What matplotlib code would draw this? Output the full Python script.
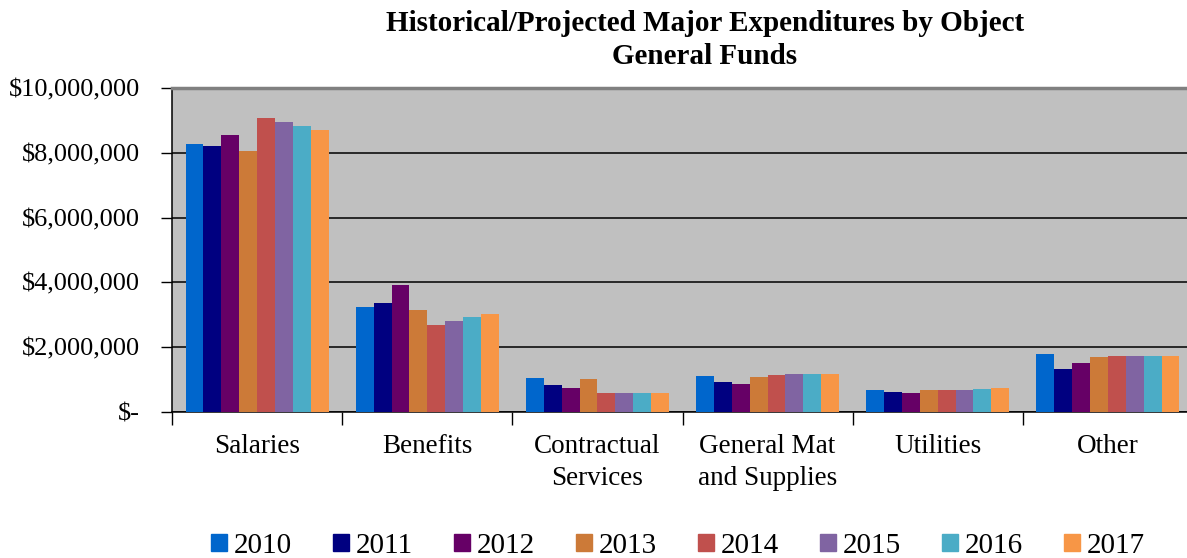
import matplotlib
matplotlib.use('Agg')
import matplotlib.pyplot as plt
from matplotlib.patches import Patch
from matplotlib.ticker import FuncFormatter
import numpy as np

plt.rcParams['font.family'] = ['Liberation Serif', 'DejaVu Serif']

categories = ['Salaries', 'Benefits', 'Contractual\nServices',
              'General Mat\nand Supplies', 'Utilities', 'Other']
years = ['2010', '2011', '2012', '2013', '2014', '2015', '2016', '2017']

# values in millions of dollars, per year, one entry per category
y2010 = [8.28, 3.24, 1.05, 1.10, 0.68, 1.78]
y2011 = [8.22, 3.36, 0.84, 0.93, 0.63, 1.34]
y2012 = [8.54, 3.92, 0.75, 0.86, 0.59, 1.51]
y2013 = [8.07, 3.15, 1.01, 1.08, 0.68, 1.71]
y2014 = [9.07, 2.69, 0.58, 1.14, 0.67, 1.73]
y2015 = [8.95, 2.81, 0.58, 1.17, 0.68, 1.73]
y2016 = [8.84, 2.93, 0.60, 1.17, 0.72, 1.73]
y2017 = [8.71, 3.02, 0.60, 1.17, 0.74, 1.73]
series = [y2010, y2011, y2012, y2013, y2014, y2015, y2016, y2017]

colors = ['#0066CC', '#000080', '#660066', '#CC7A38',
          '#C0504D', '#8064A2', '#4BACC6', '#F79646']

fig = plt.figure(figsize=(11.87, 5.58), dpi=100)
ax = fig.add_axes([172 / 1187, 1 - 412 / 558, 1021 / 1187, 324 / 558])
ax.set_facecolor('#C0C0C0')

x = np.arange(len(categories))
w = 0.105
for j, (vals, c) in enumerate(zip(series, colors)):
    ax.bar(x + (j - 3.5) * w, np.array(vals) * 1e6, width=w, color=c,
           zorder=3, label=years[j])

ax.set_xlim(-0.5, 5.5)
ax.set_ylim(0, 10e6)
ax.set_yticks(np.arange(0, 10.1e6, 2e6))
ax.yaxis.set_major_formatter(FuncFormatter(
    lambda v, p: '$-' if v == 0 else '${:,.0f}'.format(v)))
ax.grid(axis='y', color='black', lw=1.1, zorder=1)

ax.set_xticks(x)
ax.set_xticklabels(categories, fontsize=19.5, linespacing=1.35)
ax.set_xticks(np.arange(-0.5, 6, 1), minor=True)
ax.tick_params(axis='x', which='major', length=0, pad=16)
ax.tick_params(axis='x', which='minor', length=9, width=1, direction='out')
ax.tick_params(axis='y', labelsize=19, length=8, width=1, pad=15)

for s in ['left', 'bottom']:
    ax.spines[s].set_color('black')
    ax.spines[s].set_linewidth(1.1)
ax.spines['top'].set_color('#808080')
ax.spines['top'].set_linewidth(2.5)
ax.spines['right'].set_visible(False)

fig.text(705 / 1187, 1 - 40 / 558,
         'Historical/Projected Major Expenditures by Object\nGeneral Funds',
         ha='center', va='center', fontsize=21, fontweight='bold',
         linespacing=1.28)

handles = [Patch(color=c) for c in colors]
fig.legend(handles, years, loc='center', ncol=8, frameon=False,
           bbox_to_anchor=(678 / 1187, 1 - 546 / 558), fontsize=21,
           handlelength=0.55, handleheight=0.55, handletextpad=0.25,
           columnspacing=1.39, borderaxespad=0)

fig.savefig('out.png', dpi=100)
